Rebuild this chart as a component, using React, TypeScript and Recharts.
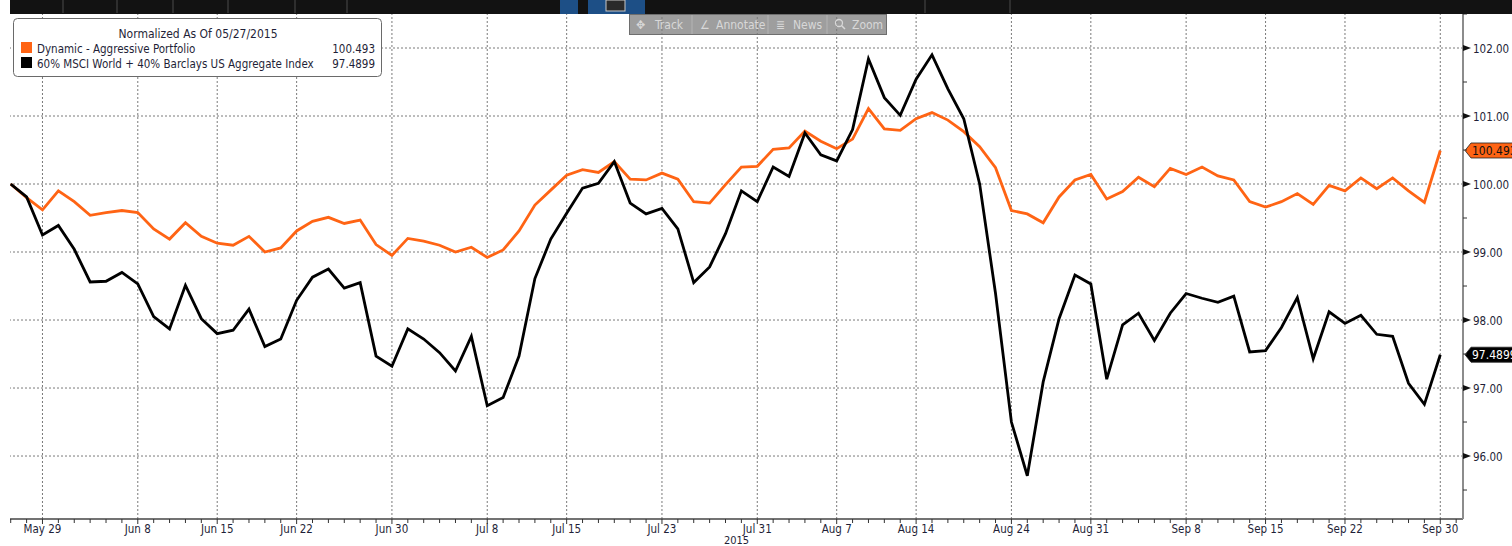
import React from 'react';
import { LineChart, Line, XAxis, YAxis, ReferenceLine } from 'recharts';

// Trading days (index position = x value)
const mayDays = ['05-27', '05-28', '05-29'];
const junDays = ['06-01', '06-02', '06-03', '06-04', '06-05', '06-08', '06-09', '06-10', '06-11', '06-12', '06-15', '06-16', '06-17', '06-18', '06-19', '06-22', '06-23', '06-24', '06-25', '06-26', '06-29', '06-30'];
const julDays = ['07-01', '07-02', '07-03', '07-06', '07-07', '07-08', '07-09', '07-10', '07-13', '07-14', '07-15', '07-16', '07-17', '07-20', '07-21', '07-22', '07-23', '07-24', '07-27', '07-28', '07-29', '07-30', '07-31'];
const augDays = ['08-03', '08-04', '08-05', '08-06', '08-07', '08-10', '08-11', '08-12', '08-13', '08-14', '08-17', '08-18', '08-19', '08-20', '08-21', '08-24', '08-25', '08-26', '08-27', '08-28', '08-31'];
const sepDays = ['09-01', '09-02', '09-03', '09-04', '09-07', '09-08', '09-09', '09-10', '09-11', '09-14', '09-15', '09-16', '09-17', '09-18', '09-21', '09-22', '09-23', '09-24', '09-25', '09-28', '09-29', '09-30'];
const tradingDays = [...mayDays, ...junDays, ...julDays, ...augDays, ...sepDays];

// Labelled dates on the x axis
const tickDates = ['05-29', '06-08', '06-15', '06-22', '06-30', '07-08', '07-15', '07-23', '07-31', '08-07', '08-14', '08-24', '08-31', '09-08', '09-15', '09-22', '09-30'];
const tickLabels = ['May 29', 'Jun 8', 'Jun 15', 'Jun 22', 'Jun 30', 'Jul 8', 'Jul 15', 'Jul 23', 'Jul 31', 'Aug 7', 'Aug 14', 'Aug 24', 'Aug 31', 'Sep 8', 'Sep 15', 'Sep 22', 'Sep 30'];

// Dynamic - Aggressive Portfolio (orange)
const portfolio = [
  100.00, 99.80, 99.62, 99.90, 99.74, 99.54, 99.58, 99.61, 99.58, 99.34,
  99.19, 99.43, 99.23, 99.13, 99.10, 99.23, 99.00, 99.06, 99.31, 99.45,
  99.51, 99.42, 99.47, 99.11, 98.95, 99.20, 99.16, 99.10, 99.00, 99.07,
  98.92, 99.03, 99.31, 99.69, 99.91, 100.13, 100.21, 100.17, 100.33, 100.07,
  100.06, 100.16, 100.07, 99.74, 99.72, 99.99, 100.25, 100.26, 100.51, 100.53,
  100.78, 100.63, 100.52, 100.66, 101.11, 100.81, 100.79, 100.96, 101.05, 100.94,
  100.77, 100.55, 100.24, 99.61, 99.56, 99.43, 99.81, 100.06, 100.14, 99.78,
  99.89, 100.10, 99.96, 100.23, 100.14, 100.25, 100.12, 100.06, 99.74, 99.66,
  99.74, 99.86, 99.70, 99.98, 99.90, 100.09, 99.93, 100.09, 99.90, 99.73,
  100.493,
];

// 60% MSCI World + 40% Barclays US Aggregate Index (black)
const benchmark = [
  100.00, 99.81, 99.25, 99.39, 99.04, 98.56, 98.57, 98.70, 98.53, 98.05,
  97.87, 98.51, 98.02, 97.80, 97.85, 98.16, 97.61, 97.72, 98.29, 98.63,
  98.75, 98.47, 98.55, 97.47, 97.32, 97.87, 97.72, 97.52, 97.25, 97.76,
  96.74, 96.86, 97.47, 98.61, 99.19, 99.57, 99.94, 100.01, 100.33, 99.72,
  99.56, 99.64, 99.34, 98.55, 98.78, 99.27, 99.90, 99.74, 100.25, 100.11,
  100.75, 100.43, 100.34, 100.80, 101.84, 101.27, 101.01, 101.54, 101.90, 101.40,
  100.96, 100.00, 98.39, 96.50, 95.71, 97.09, 98.02, 98.66, 98.53, 97.13,
  97.93, 98.10, 97.70, 98.10, 98.39, 98.32, 98.26, 98.35, 97.53, 97.55,
  97.89, 98.33, 97.43, 98.12, 97.95, 98.07, 97.79, 97.76, 97.07, 96.76,
  97.4899,
];

const yMajorTicks = [96, 97, 98, 99, 100, 101, 102];
const yMinorTicks = [95.5, 96.5, 97.5, 98.5, 99.5, 100.5, 101.5, 102.5];

const legendTitle = 'Normalized As Of 05/27/2015';
const seriesNames = ['Dynamic - Aggressive Portfolio', '60% MSCI World + 40% Barclays US Aggregate Index'];
const lastLabels = ['100.493', '97.4899'];

const ORANGE = '#ff6414';
const BLACK = '#000000';
const TEXT = '#1f1f38';
const FONT = "'DejaVu Sans Condensed', 'DejaVu Sans', sans-serif";
const GRID = '#7a7a7a';

const data = tradingDays.map((d, i) => ({
  i,
  date: '2015-' + d,
  portfolio: portfolio[i],
  benchmark: benchmark[i],
}));

const tickIdx = tickDates.map((d) => tradingDays.indexOf(d));
const allXTicks = [...tradingDays.map((_, i) => i), tradingDays.length];
const allYTicks = [...yMajorTicks, ...yMinorTicks].sort((a, b) => a - b);

const XTick = (props: any) => {
  const { x, y, payload } = props;
  const li = tickIdx.indexOf(payload.value);
  return (
    <g>
      <line x1={x} x2={x} y1={y} y2={y + (li >= 0 ? 5 : 4)} stroke="#333" strokeWidth={1} />
      {li >= 0 && (
        <text x={x} y={y + 14} textAnchor="middle" fontFamily={FONT} fontSize={11.5} fill={TEXT}>
          {tickLabels[li]}
        </text>
      )}
    </g>
  );
};

const YTick = (props: any) => {
  const { x, y, payload } = props;
  const v = payload.value;
  if (yMajorTicks.includes(v)) {
    return (
      <g>
        <path d={`M${x},${y - 3} L${x + 8},${y} L${x},${y + 3} Z`} fill="#111" />
        <text x={x + 10} y={y + 4.5} fontFamily={FONT} fontSize={11.5} fill={TEXT}>
          {v.toFixed(2)}
        </text>
      </g>
    );
  }
  return <line x1={x} x2={x + 4} y1={y} y2={y} stroke="#333" strokeWidth={1} />;
};

const makeTag = (text: string, bg: string, fg: string) => (props: any) => {
  const vb = props.viewBox || {};
  const x0 = (vb.x || 0) + (vb.width || 0) + 2;
  const y0 = vb.y || 0;
  return (
    <g>
      <path
        d={`M${x0},${y0} L${x0 + 6},${y0 - 7.5} L${x0 + 60},${y0 - 7.5} L${x0 + 60},${y0 + 7.5} L${x0 + 6},${y0 + 7.5} Z`}
        fill={bg}
        stroke="#222"
        strokeWidth={0.8}
      />
      <text x={x0 + 7} y={y0 + 4.5} fontFamily={FONT} fontSize={12} fill={fg}>
        {text}
      </text>
    </g>
  );
};

const Overlay = () => (
  <svg width={1512} height={546} style={{ position: 'absolute', left: 0, top: 0, pointerEvents: 'none' }}>
    {/* header strip */}
    <rect x={10} y={0} width={1502} height={14} fill="#121212" />
    {[63, 117, 173, 228, 295, 347, 925, 1010].map((sx) => (
      <line key={sx} x1={sx} x2={sx} y1={0} y2={13} stroke="#4a4a4a" strokeWidth={1} />
    ))}
    <rect x={560} y={0} width={18} height={14} fill="#1d4f86" />
    <rect x={588} y={0} width={57} height={14} fill="#1d4f86" />
    <rect x={606} y={0} width={19} height={11} fill="#2a2a2a" stroke="#c8c8c8" strokeWidth={1} />

    {/* toolbar */}
    <rect x={629.5} y={14.5} width={257} height={20} fill="rgba(120,120,120,0.72)" stroke="#6e6e6e" />
    {[692, 768, 827].map((dx) => (
      <line key={dx} x1={dx} x2={dx} y1={15} y2={34} stroke="#b4b4b4" strokeWidth={1} />
    ))}
    <g fontFamily={FONT} fontSize={12} fill="#d8d8d8">
      <text x={636} y={29}>✥</text>
      <text x={655} y={29}>Track</text>
      <text x={700} y={29}>∠</text>
      <text x={716} y={29}>Annotate</text>
      <text x={776} y={29}>≣</text>
      <text x={793} y={29}>News</text>
      <text x={852} y={29}>Zoom</text>
    </g>
    <circle cx={839} cy={23} r={3.5} fill="none" stroke="#d8d8d8" strokeWidth={1.3} />
    <line x1={841.5} y1={25.5} x2={845} y2={29} stroke="#d8d8d8" strokeWidth={1.5} />

    {/* legend */}
    <rect x={13.5} y={18.5} width={368} height={58} rx={4} ry={4} fill="#ffffff" stroke="#6a6a6a" strokeWidth={1} />
    <text x={198} y={37.5} textAnchor="middle" fontFamily={FONT} fontSize={12} fill={TEXT}>
      {legendTitle}
    </text>
    <rect x={21} y={42} width={11} height={11} fill={ORANGE} />
    <rect x={21} y={57} width={11} height={11} fill={BLACK} />
    <text x={37} y={52.5} fontFamily={FONT} fontSize={11.5} fill={TEXT}>{seriesNames[0]}</text>
    <text x={375} y={52.5} textAnchor="end" fontFamily={FONT} fontSize={11.5} fill={TEXT}>{lastLabels[0]}</text>
    <text x={37} y={67.5} fontFamily={FONT} fontSize={11.5} fill={TEXT}>{seriesNames[1]}</text>
    <text x={375} y={67.5} textAnchor="end" fontFamily={FONT} fontSize={11.5} fill={TEXT}>{lastLabels[1]}</text>

    {/* year label */}
    <text x={736.5} y={543.5} textAnchor="middle" fontFamily={FONT} fontSize={11} fill={TEXT}>2015</text>
  </svg>
);

export default function App() {
  return (
    <div style={{ position: 'absolute', left: 0, top: 0, width: 1512, height: 546, background: '#ffffff', overflow: 'hidden' }}>
      <LineChart width={1512} height={546} data={data} margin={{ top: 14, right: 0, left: 10, bottom: 0 }}>
        <XAxis
          dataKey="i"
          type="number"
          domain={[-0.045, 91.43]}
          allowDataOverflow
          ticks={allXTicks}
          interval={0}
          tick={<XTick />}
          tickSize={0}
          tickMargin={0}
          tickLine={false}
          axisLine={{ stroke: '#444', strokeWidth: 1.5 }}
          height={27}
        />
        <YAxis
          orientation="right"
          type="number"
          domain={[95.074, 102.5]}
          allowDataOverflow
          ticks={allYTicks}
          interval={0}
          tick={<YTick />}
          tickSize={0}
          tickMargin={0}
          tickLine={false}
          axisLine={{ stroke: '#8c8c8c', strokeWidth: 2 }}
          width={49}
        />
        {yMajorTicks.map((v) => (
          <ReferenceLine key={'h' + v} y={v} stroke={GRID} strokeDasharray="2 2" strokeWidth={1} />
        ))}
        {tickIdx.map((ix) => (
          <ReferenceLine key={'v' + ix} x={ix} stroke={GRID} strokeDasharray="2 2" strokeWidth={1} />
        ))}
        <Line
          type="linear"
          dataKey="portfolio"
          stroke={ORANGE}
          strokeWidth={2.8}
          dot={false}
          activeDot={false}
          isAnimationActive={false}
        />
        <Line
          type="linear"
          dataKey="benchmark"
          stroke={BLACK}
          strokeWidth={2.8}
          dot={false}
          activeDot={false}
          isAnimationActive={false}
        />
        <ReferenceLine y={portfolio[portfolio.length - 1]} stroke="none" label={makeTag(lastLabels[0], ORANGE, '#111')} />
        <ReferenceLine y={benchmark[benchmark.length - 1]} stroke="none" label={makeTag(lastLabels[1], '#000', '#fff')} />
      </LineChart>
      <Overlay />
    </div>
  );
}
